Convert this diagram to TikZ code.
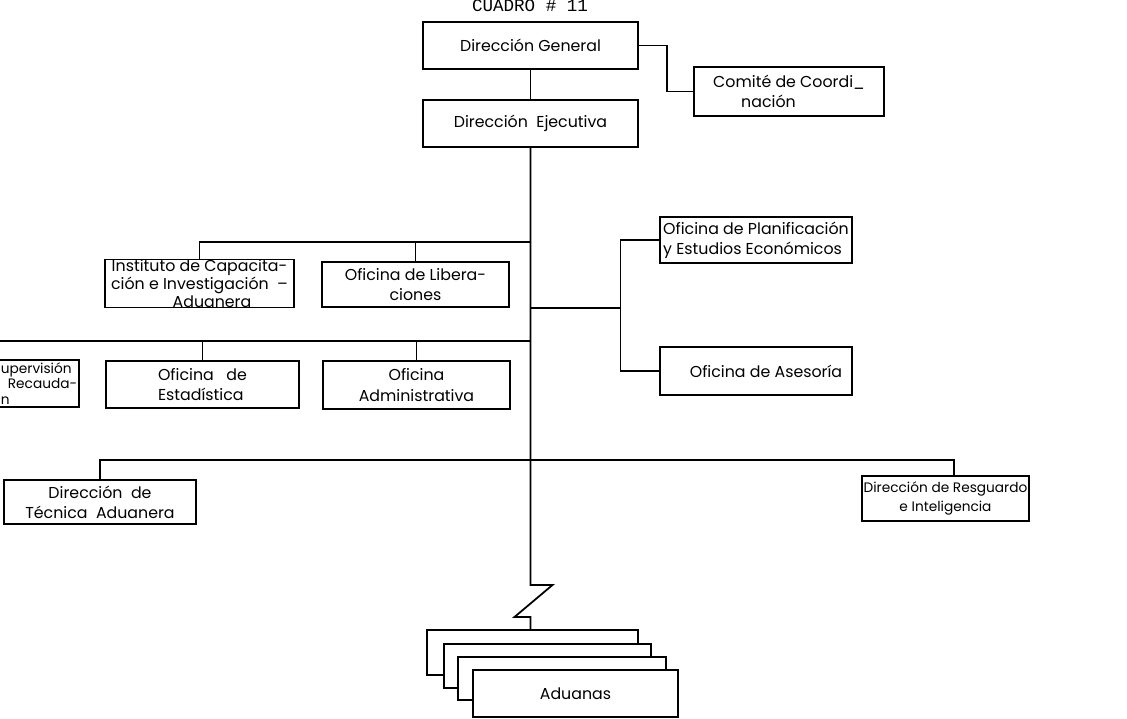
\documentclass[tikz,border=0pt]{standalone}
\usepackage{fontspec}
\setmainfont{Poppins}
\newfontfamily\typefont{Liberation Mono}

\tikzset{
  unit/.style={draw, line width=0.9pt, fill=white, inner sep=0pt, align=center,
    font=\fontsize{9}{11.5}\selectfont},
  link/.style={line width=1pt},
}

\begin{document}
\begin{tikzpicture}[x=0.02cm, y=-0.02cm]
    \useasboundingbox (0,0) rectangle (1127,719);
    \clip (0,0) rectangle (1127,719);
    \node[font=\typefont\fontsize{10}{12}\selectfont, anchor=base] (title) at (530,12) {CUADRO \# 11};
    % direccion
    \node[unit, minimum width=4.3cm, minimum height=0.94cm] (dg) at (530.5,45.5) {Dirección General};
    \node[unit, minimum width=4.3cm, minimum height=0.94cm] (de) at (530.5,123.5) {Dirección~~Ejecutiva};
    \node[unit, minimum width=3.8cm, minimum height=0.98cm, align=left] (comite) at (789,91.5) {Comité de Coordi\_\\\hspace*{0.56cm}nación};
    \draw[link] (dg.east) -- ++(28,0) |- (comite.west);
    \draw[link] (dg.south) -- (de.north);
    % staff units
    \node[unit, minimum width=3.78cm, minimum height=0.94cm, font=\fontsize{9}{9}\selectfont] (inst) at (199.5,283.5) {Instituto de Capacita-\\ción e Investigación~~--\\\hspace*{0.5cm}Aduanera};
    \node[unit, minimum width=3.74cm, minimum height=0.9cm] (lib) at (415.5,284.5) {Oficina de Libera-\\ciones};
    \node[unit, minimum width=3.84cm, minimum height=0.92cm, align=left] (plan) at (756,240) {Oficina de Planificación\\y Estudios Económicos};
    \node[unit, minimum width=3.84cm, minimum height=0.96cm] (ases) at (756,371) {\hspace*{0.4cm}Oficina de Asesoría};
    \node[unit, minimum width=1.6cm, minimum height=0.94cm, align=left, font=\fontsize{7.8}{8.6}\selectfont] (sup) at (39,383.5) {upervisión\\\hspace*{0.14cm}Recauda-\\n};
    \node[unit, minimum width=3.86cm, minimum height=0.94cm, align=left] (est) at (202.5,384.5) {Oficina~~~de\\Estadística};
    \node[unit, minimum width=3.74cm, minimum height=0.96cm] (adm) at (416.5,385) {Oficina\\Administrativa};
    % line units
    \node[unit, minimum width=3.84cm, minimum height=0.88cm] (tec) at (100,502) {Dirección~~de\\Técnica~~Aduanera};
    \node[unit, minimum width=3.34cm, minimum height=0.9cm, font=\fontsize{7.8}{11}\selectfont] (res) at (945.5,498.5) {Dirección de Resguardo\\e Inteligencia};
    % junctions on the spine
    \coordinate (j1) at (530.5,242);
    \coordinate (j2) at (530.5,308);
    \coordinate (j3) at (530.5,341);
    \coordinate (j4) at (530.5,460);
    \coordinate (kink) at (530.5,585);
    \draw[link] (inst.north) |- (j1);
    \draw[link] (lib.north) -- (lib.north |- j1);
    \draw[link] (j2) -- ++(90,0) coordinate (r);
    \draw[link] (plan.west) -| (r) |- (ases.west);
    \draw[link] (j3) -- (-10,341);
    \draw[link] (est.north) -- (est.north |- j3);
    \draw[link] (adm.north) -- (adm.north |- j3);
    \draw[link] (tec.north) |- (j4) -| ([xshift=0.17cm]res.north);
    % aduanas
    \node[unit, minimum width=4.22cm, minimum height=0.9cm] (adu1) at (532.5,652.5) {};
    \node[unit, minimum width=4.14cm, minimum height=0.88cm] (adu2) at (547.5,666) {};
    \node[unit, minimum width=4.16cm, minimum height=0.86cm] (adu3) at (562,678.5) {};
    \node[unit, minimum width=4.1cm, minimum height=0.94cm] (adu4) at (575.5,693.5) {Aduanas};
    \draw[link] (de.south) -- (kink) -- ++(22,0) -- ++(-38,32) -- ++(16,0) -- (kink |- adu1.north);
\end{tikzpicture}
\end{document}
